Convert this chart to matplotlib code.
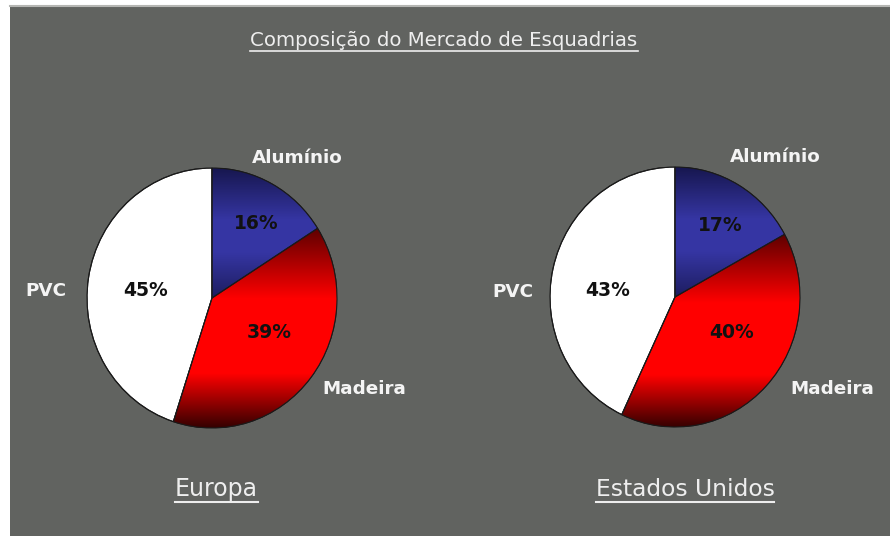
import numpy as np
import matplotlib
matplotlib.use("Agg")
import matplotlib.pyplot as plt
from matplotlib.patches import Rectangle, Wedge
from matplotlib.lines import Line2D

# ---- data ----
title = "Composição do Mercado de Esquadrias"
categories = ["Alumínio", "Madeira", "PVC"]
regions = ["Europa", "Estados Unidos"]
europa = [16, 39, 45]
estados_unidos = [17, 40, 43]

W, H = 890, 536
BG = "#616360"
fig = plt.figure(figsize=(W / 100, H / 100), dpi=100, facecolor="white")

# grey panel
bg_ax = fig.add_axes([0, 0, 1, 1])
bg_ax.set_xlim(0, W)
bg_ax.set_ylim(H, 0)
bg_ax.axis("off")
bg_ax.add_patch(Rectangle((10, 6), W - 10, H - 6, facecolor=BG, edgecolor="none"))
bg_ax.add_line(Line2D([10, W], [5.5, 5.5], color="#b5b6b3", lw=1.5))


def px_axes(cx, cy, w, h):
    return fig.add_axes([(cx - w / 2) / W, (H - cy - h / 2) / H, w / W, h / H])


def gradient_fill(ax, wedge, base, knots, vals, dark):
    verts = wedge.get_path().vertices
    y0, y1 = verts[:, 1].min(), verts[:, 1].max()
    n = 256
    t = np.linspace(0, 1, n)  # 0 = top, 1 = bottom
    f = np.interp(t, knots, vals)[:, None]
    base = np.array(base)
    dark = np.array(dark)
    img = dark[None, :] + (base - dark)[None, :] * f
    img = np.repeat(img[:, None, :], 2, axis=1)
    im = ax.imshow(img, extent=[-1.05, 1.05, y0, y1], origin="upper",
                   aspect="auto", interpolation="bilinear", zorder=2)
    im.set_clip_path(wedge)


def draw_pie(values, cx, cy, pct_pos, lab_pos):
    ax = px_axes(cx, cy, 250, 260)
    wedges, _ = ax.pie(values, startangle=90, counterclock=False, radius=1,
                       colors=["#3434a0", "#ff0000", "#ffffff"],
                       wedgeprops=dict(edgecolor="#1a1a1a", linewidth=0.8))
    ax.set_aspect("auto")
    ax.set_xlim(-1, 1)
    ax.set_ylim(-1, 1)
    ax.axis("off")
    for w in wedges:
        w.set_zorder(1)
    gradient_fill(ax, wedges[0], (0.21, 0.21, 0.64),
                  [0, 0.4, 0.65, 1], [0.25, 1.0, 1.0, 0.4], (0.05, 0.05, 0.2))
    gradient_fill(ax, wedges[1], (1.0, 0.0, 0.0),
                  [0, 0.35, 0.72, 1], [0.3, 1.0, 1.0, 0.08], (0.1, 0.0, 0.0))
    for w in wedges:
        ax.add_patch(Wedge(w.center, w.r, w.theta1, w.theta2,
                           facecolor="none", edgecolor="#1a1a1a",
                           linewidth=0.8, zorder=3))
    for v, (x, y) in zip(values, pct_pos):
        ax.text(x, y, f"{v}%", ha="center", va="center", fontsize=13.5,
                fontweight="bold", family="DejaVu Sans", color="#111111", zorder=4)
    for c, (x, y) in zip(categories, lab_pos):
        ax.text(x, y, c, ha="center", va="center", fontsize=13.2,
                fontweight="bold", color="#f4f4f4", clip_on=False, zorder=4)
    return ax


draw_pie(europa, 212, 298,
         [(0.35, 0.57), (0.456, -0.262), (-0.528, 0.06)],
         [(0.68, 1.08), (1.22, -0.70), (-1.33, 0.05)])
draw_pie(estados_unidos, 675, 297,
         [(0.36, 0.55), (0.45, -0.27), (-0.54, 0.05)],
         [(0.80, 1.08), (1.256, -0.71), (-1.30, 0.04)])


def underlined(x, y, s, size, color="#eeeeee"):
    t = bg_ax.text(x, y, s, ha="center", va="center", fontsize=size,
                   color=color, family="DejaVu Sans")
    fig.canvas.draw()
    r = fig.canvas.get_renderer()
    bb = t.get_window_extent(r)
    yline = H - bb.y0 + 1.0
    bg_ax.add_line(Line2D([bb.x0, bb.x1], [yline, yline], color=color,
                          lw=1.2 if size < 15 else 1.5))


underlined(444, 40, title, 14.2)
underlined(216, 489, regions[0], 17)
underlined(685, 489, regions[1], 16.8)

fig.savefig("out.png", dpi=100, facecolor=fig.get_facecolor())
